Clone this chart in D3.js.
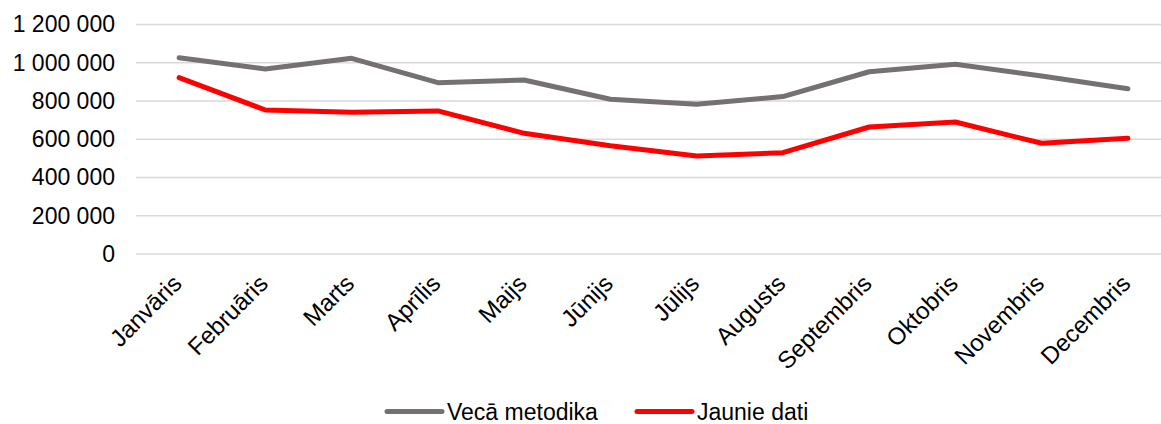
<!doctype html>
<html lang="lv">
<head>
<meta charset="utf-8">
<title>Vecā metodika / Jaunie dati</title>
<script src="https://d3js.org/d3.v7.min.js"></script>
<style>
  body { margin: 0; background: #fff; }
  text { font-family: Arial, "Liberation Sans", sans-serif; fill: #000; }
</style>
</head>
<body>
<div id="chart"></div>
<script>
// months on the x axis
var months = ["Janvāris", "Februāris", "Marts", "Aprīlis", "Maijs", "Jūnijs",
              "Jūlijs", "Augusts", "Septembris", "Oktobris", "Novembris", "Decembris"];

// values
var vecaMetodika = [1026000, 967000, 1023000, 896000, 910000, 809000,
                    783000, 823000, 953000, 992000, 931000, 864000];
var jaunieDati   = [922000, 753000, 741000, 748000, 631000, 566000,
                    512000, 530000, 664000, 690000, 579000, 605000];

var yTicks = [0, 200000, 400000, 600000, 800000, 1000000, 1200000];

var seriesNames = ["Vecā metodika", "Jaunie dati"];
var seriesColors = ["#767171", "#ff0000"];

var width = 1161, height = 424;
var margin = {top: 24.5, right: -10, bottom: 170, left: 136};

var svg = d3.select("#chart")
  .append("svg")
    .attr("width", width)
    .attr("height", height);

var x = d3.scaleBand()
  .domain(months)
  .range([margin.left, width - margin.right]);

var y = d3.scaleLinear()
  .domain([0, 1200000])
  .range([height - margin.bottom, margin.top]);

var fmt = function(v) { return d3.format(",")(v).replace(/,/g, " "); };

// gridlines
svg.append("g")
  .selectAll("line")
  .data(yTicks)
  .enter()
  .append("line")
    .attr("x1", margin.left)
    .attr("x2", width)
    .attr("y1", function(d) { return y(d); })
    .attr("y2", function(d) { return y(d); })
    .attr("stroke", "#d9d9d9")
    .attr("stroke-width", 1.3);

// y axis labels
var yAxis = d3.axisLeft(y).tickValues(yTicks).tickFormat(fmt).tickSize(0).tickPadding(21);
svg.append("g")
  .attr("transform", "translate(" + margin.left + ",0)")
  .call(yAxis)
  .call(function(g) { g.select(".domain").remove(); })
  .selectAll("text")
    .style("font-size", "23px")
    .attr("fill", "#000");

// x axis labels, rotated
svg.append("g")
  .selectAll("text")
  .data(months)
  .enter()
  .append("text")
    .attr("transform", function(d) {
      var cx = x(d) + x.bandwidth() / 2;
      return "translate(" + (cx + 4) + "," + (y(0) + 31) + ") rotate(-45)";
    })
    .attr("text-anchor", "end")
    .style("font-size", "24px")
    .text(function(d) { return d; });

// lines
var line = d3.line()
  .x(function(d, i) { return x(months[i]) + x.bandwidth() / 2; })
  .y(function(d) { return y(d); });

[vecaMetodika, jaunieDati].forEach(function(vals, i) {
  svg.append("path")
    .datum(vals)
    .attr("fill", "none")
    .attr("stroke", seriesColors[i])
    .attr("stroke-width", 5)
    .attr("stroke-linejoin", "round")
    .attr("stroke-linecap", "round")
    .attr("d", line);
});

// legend
var legendX = [387, 637];
var legend = svg.append("g")
  .selectAll("g")
  .data(seriesNames)
  .enter()
  .append("g")
    .attr("transform", function(d, i) { return "translate(" + legendX[i] + ",411.5)"; });

legend.append("line")
  .attr("x1", 0).attr("x2", 55)
  .attr("y1", 0).attr("y2", 0)
  .attr("stroke", function(d, i) { return seriesColors[i]; })
  .attr("stroke-width", 5)
  .attr("stroke-linecap", "round");

legend.append("text")
  .attr("x", 60)
  .attr("y", 8)
  .style("font-size", "23px")
  .text(function(d) { return d; });
</script>
</body>
</html>
